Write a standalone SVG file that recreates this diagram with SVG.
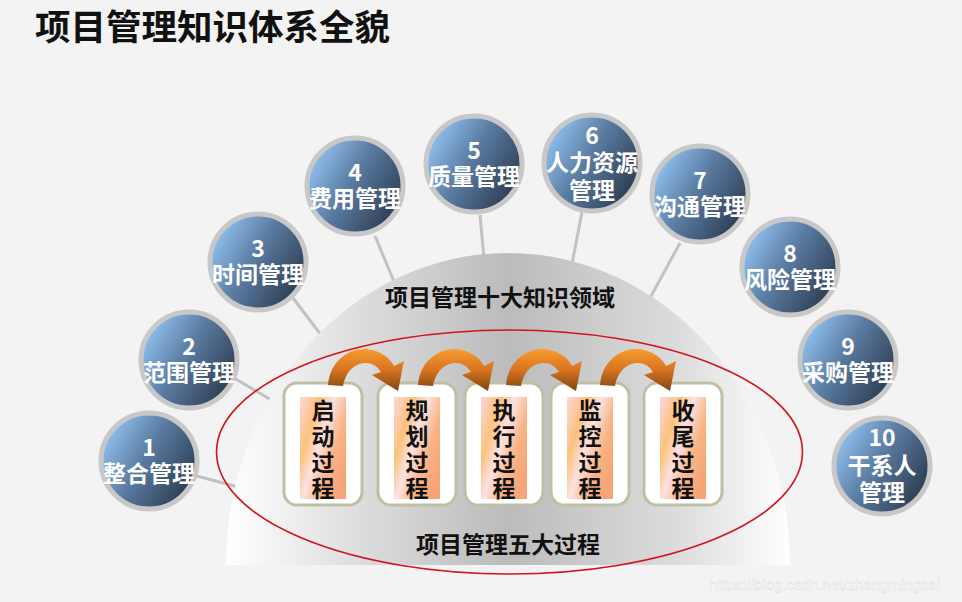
<svg xmlns="http://www.w3.org/2000/svg" width="962" height="602" viewBox="0 0 962 602">
<defs>
<style>
.title{font-family:"Noto Sans CJK SC","Liberation Sans",sans-serif;font-weight:bold;font-size:35.5px;fill:#111}
.nt{font-family:"Noto Sans CJK SC","Liberation Sans",sans-serif;font-weight:bold;font-size:23px;fill:#fff;text-anchor:middle}
.circ{fill:url(#cg);stroke:#c8c8c8;stroke-width:5}
.conn{stroke:#c2c2c2;stroke-width:3;fill:none}
.box{fill:#fff;stroke:#bfbfa6;stroke-width:3}
.inner{fill:url(#og)}
.pt{font-family:"Noto Sans CJK SC","Liberation Sans",sans-serif;font-weight:bold;font-size:23px;fill:#111;writing-mode:vertical-rl;letter-spacing:3px}
.lbl{font-family:"Noto Sans CJK SC","Liberation Sans",sans-serif;font-weight:bold;font-size:23px;fill:#111;text-anchor:middle}
.wm{font-family:"Liberation Sans",Arial,sans-serif;font-size:15px;fill:#fbfbfb;stroke:#dadada;stroke-width:0.4}
</style>
<linearGradient id="cg" x1="0.1" y1="0.1" x2="0.95" y2="0.6">
<stop offset="0" stop-color="#92c4f3"/>
<stop offset="0.5" stop-color="#5a7ba1"/>
<stop offset="1" stop-color="#33455d"/>
</linearGradient>
<linearGradient id="dg" x1="0" y1="0" x2="1" y2="0">
<stop offset="0" stop-color="#ffffff"/>
<stop offset="0.2" stop-color="#e2e2e2"/>
<stop offset="0.5" stop-color="#bbbbbb"/>
<stop offset="0.8" stop-color="#dcdcdc"/>
<stop offset="1" stop-color="#ffffff"/>
</linearGradient>
<linearGradient id="og" x1="0" y1="0" x2="1" y2="0.7">
<stop offset="0" stop-color="#fcd6dc"/>
<stop offset="0.3" stop-color="#fbc27c"/>
<stop offset="0.5" stop-color="#fde2e2"/>
<stop offset="0.75" stop-color="#f9b484"/>
<stop offset="1" stop-color="#f7a478"/>
</linearGradient>
<linearGradient id="ag" gradientUnits="userSpaceOnUse" x1="0" y1="349" x2="0" y2="391">
<stop offset="0" stop-color="#f99c30"/>
<stop offset="0.5" stop-color="#d7741e"/>
<stop offset="1" stop-color="#7e4512"/>
</linearGradient>
<path id="arr" d="M0,385 C2,360 22,348 38,349 C52,350 62,358 66,366 L76,361 L70,391 L44,375 L53,372 C49,366 44,363 38,363 C28,363 18,370 15,386 Z" fill="url(#ag)"/>
</defs>
<rect width="962" height="602" fill="#f3f3f3"/>
<text class="title" x="35" y="40">项目管理知识体系全貌</text>

<g id="connectors">
<line class="conn" x1="197" y1="476" x2="238" y2="487"/>
<line class="conn" x1="234" y1="378" x2="273" y2="401"/>
<line class="conn" x1="293" y1="298" x2="321" y2="335"/>
<line class="conn" x1="375" y1="236" x2="395" y2="284"/>
<line class="conn" x1="480" y1="215" x2="484" y2="258"/>
<line class="conn" x1="582" y1="212" x2="572" y2="264"/>
<line class="conn" x1="680" y1="243" x2="650" y2="298"/>
</g>

<g id="dome">
<path d="M226,565 A282,312 0 0 1 790,565 Z" fill="url(#dg)"/>
<text class="lbl" x="500" y="306">项目管理十大知识领域</text>
</g>

<g id="process-ring">
<ellipse cx="509.5" cy="452" rx="293" ry="122" fill="none" stroke="#d0141c" stroke-width="1.6"/>
<text class="lbl" x="508" y="553">项目管理五大过程</text>
</g>

<g id="n1"><circle class="circ" cx="149" cy="461" r="48"/><text class="nt" x="149" y="456">1</text><text class="nt" x="149" y="482">整合管理</text></g>
<g id="n2"><circle class="circ" cx="189" cy="360" r="48"/><text class="nt" x="189" y="355">2</text><text class="nt" x="189" y="381">范围管理</text></g>
<g id="n3"><circle class="circ" cx="258" cy="262" r="48"/><text class="nt" x="258" y="257">3</text><text class="nt" x="258" y="283">时间管理</text></g>
<g id="n4"><circle class="circ" cx="355" cy="186" r="48"/><text class="nt" x="355" y="181">4</text><text class="nt" x="355" y="207">费用管理</text></g>
<g id="n5"><circle class="circ" cx="474" cy="164" r="48"/><text class="nt" x="474" y="159">5</text><text class="nt" x="474" y="185">质量管理</text></g>
<g id="n6"><circle class="circ" cx="592" cy="163" r="48"/><text class="nt" x="592" y="144">6</text><text class="nt" x="592" y="171">人力资源</text><text class="nt" x="592" y="199">管理</text></g>
<g id="n7"><circle class="circ" cx="700" cy="194" r="48"/><text class="nt" x="700" y="189">7</text><text class="nt" x="700" y="215">沟通管理</text></g>
<g id="n8"><circle class="circ" cx="790" cy="267" r="48"/><text class="nt" x="790" y="262">8</text><text class="nt" x="790" y="288">风险管理</text></g>
<g id="n9"><circle class="circ" cx="848" cy="360" r="48"/><text class="nt" x="848" y="355">9</text><text class="nt" x="848" y="381">采购管理</text></g>
<g id="n10"><circle class="circ" cx="882" cy="466" r="48"/><text class="nt" x="882" y="446">10</text><text class="nt" x="882" y="474">干系人</text><text class="nt" x="882" y="501">管理</text></g>

<g id="p1"><rect class="box" x="284" y="383" width="78" height="122" rx="13"/><rect class="inner" x="300" y="397" width="46" height="102"/>
<text class="pt" x="323" y="399">启动过程</text></g>
<g id="p2"><rect class="box" x="378" y="383" width="78" height="122" rx="13"/><rect class="inner" x="394" y="397" width="46" height="102"/>
<text class="pt" x="417" y="399">规划过程</text></g>
<g id="p3"><rect class="box" x="465" y="383" width="78" height="122" rx="13"/><rect class="inner" x="481" y="397" width="46" height="102"/>
<text class="pt" x="504" y="399">执行过程</text></g>
<g id="p4"><rect class="box" x="551" y="383" width="78" height="122" rx="13"/><rect class="inner" x="567" y="397" width="46" height="102"/>
<text class="pt" x="590" y="399">监控过程</text></g>
<g id="p5"><rect class="box" x="644" y="383" width="78" height="122" rx="13"/><rect class="inner" x="660" y="397" width="46" height="102"/>
<text class="pt" x="683" y="399">收尾过程</text></g>

<g id="flow-arrows">
<use href="#arr" transform="translate(328,0)"/>
<use href="#arr" transform="translate(418,0)"/>
<use href="#arr" transform="translate(506,0)"/>
<use href="#arr" transform="translate(600,0)"/>
</g>

<text class="wm" x="709" y="590">https://blog.csdn.net/zhangmingcai</text>
</svg>
